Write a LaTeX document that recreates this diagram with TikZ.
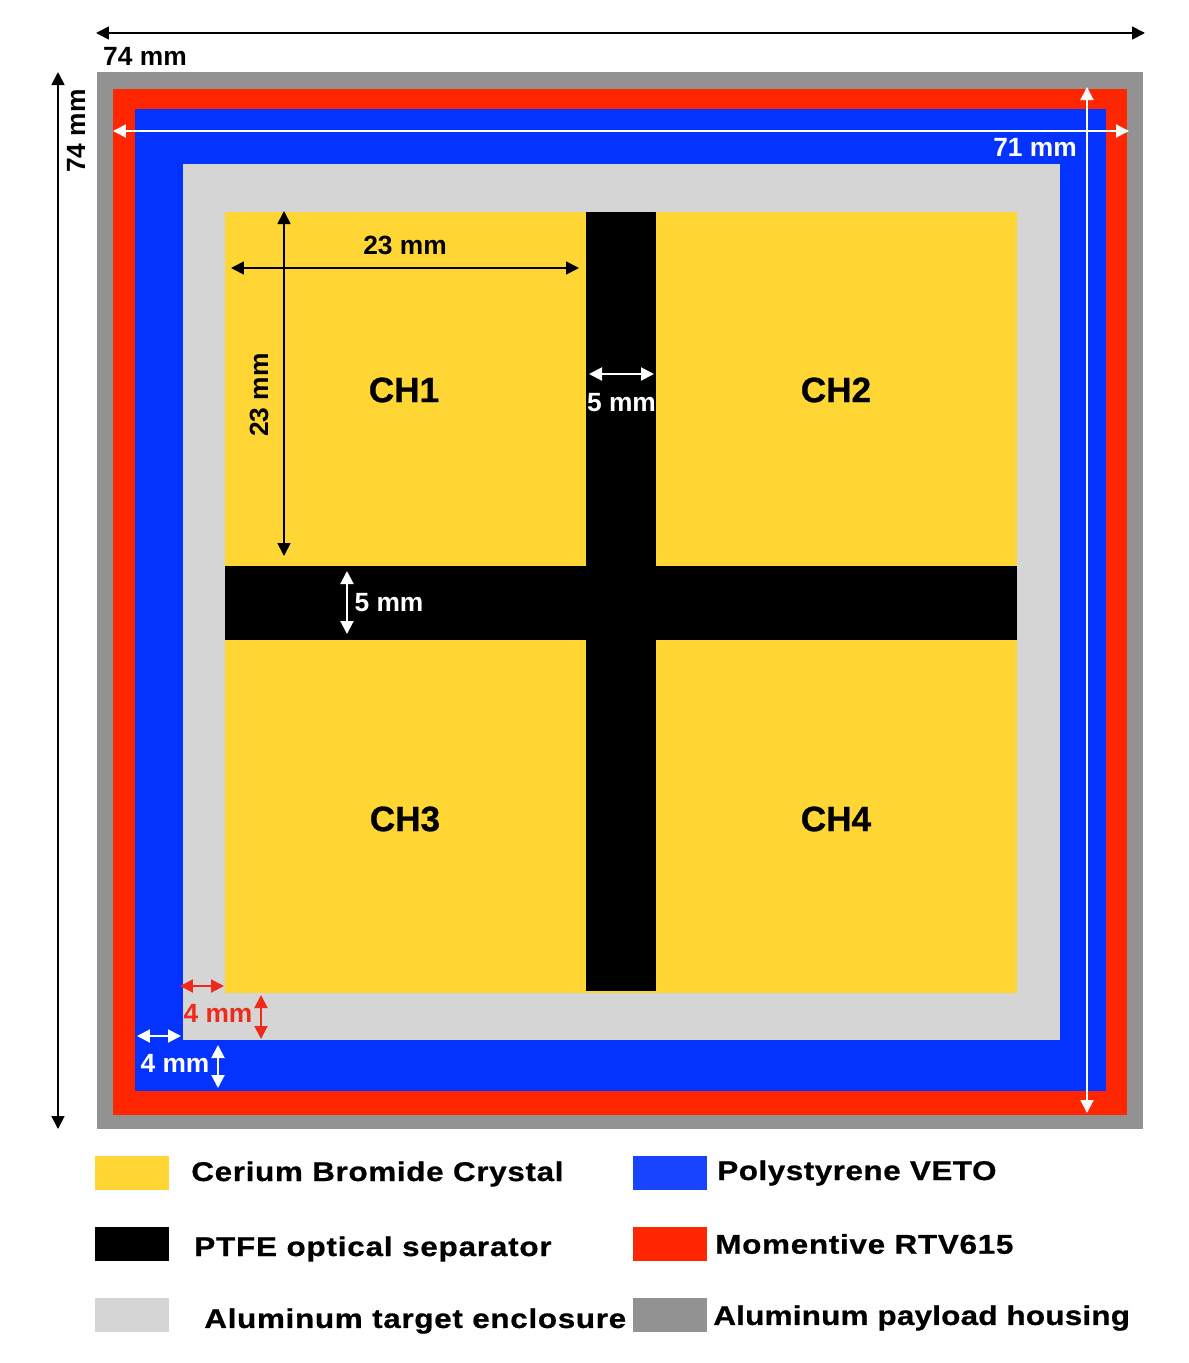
\documentclass[tikz,border=0pt]{standalone}
\usepackage{fontspec}
\setmainfont{Liberation Sans}
\newfontfamily\legendfont[FakeStretch=1.16]{Liberation Sans}
\usetikzlibrary{arrows.meta,positioning}
\definecolor{crystalyellow}{HTML}{FFD633}
\definecolor{vetoblue}{HTML}{0433FF}
\definecolor{rtvred}{HTML}{FF2600}
\definecolor{housinggray}{HTML}{929292}
\definecolor{enclosuregray}{HTML}{D5D5D5}
\definecolor{dimred}{HTML}{EE2A1B}
\tikzset{
  dimblack/.style={{Triangle[length=2.6mm,width=2.6mm]}-{Triangle[length=2.6mm,width=2.6mm]},line width=0.035cm,black},
  dimwhite/.style={dimblack,line width=0.04cm,white},
  dimredline/.style={dimblack,line width=0.04cm,dimred},
  dimlabel/.style={inner sep=0pt,font=\fontsize{15}{16}\selectfont\bfseries},
  chlabel/.style={inner sep=0pt,font=\fontsize{20}{22}\selectfont\bfseries\addfontfeature{FakeBold=0.8}},
  legendtext/.style={inner sep=0pt,anchor=west,font=\legendfont\fontsize{15.4}{18}\selectfont\bfseries\addfontfeature{LetterSpace=#1,FakeBold=0.8}},
}
\begin{document}
\begin{tikzpicture}[x=0.02cm,y=-0.02cm]
\useasboundingbox (0,0) rectangle (1188,1363);
% layers, outside to inside
\fill[housinggray] (97,72) rectangle (1143,1129);
\fill[rtvred] (113,89) rectangle (1127,1115);
\fill[vetoblue] (135,109) rectangle (1106,1091);
\fill[enclosuregray] (183,164) rectangle (1060,1040);
\fill[crystalyellow] (225,212) rectangle (1017,993);
\fill[black] (586,212) rectangle (656,991);
\fill[black] (225,566) rectangle (1017,640);
%
\node (ch1) [chlabel] at (404,390) {CH1};
\node (ch2) [chlabel] at (836,390) {CH2};
\node (ch3) [chlabel] at (405,819) {CH3};
\node (ch4) [chlabel] at (836,819) {CH4};
%
\coordinate (topL) at (96,33);
\coordinate (topR) at (1145,33);
\coordinate (sideT) at (58,72);
\coordinate (sideB) at (58,1129);
\coordinate (rtvL) at (113,131);
\coordinate (rtvR) at (1129,131);
\coordinate (rtvT) at (1087,87);
\coordinate (rtvB) at (1087,1113);
\coordinate (crysL) at (231,268);
\coordinate (crysR) at (579,268);
\coordinate (crysT) at (284,211);
\coordinate (crysB) at (284,556);
\coordinate (sepL) at (589,374);
\coordinate (sepR) at (654,374);
\coordinate (sepT) at (347,571);
\coordinate (sepB) at (347,634);
\coordinate (encL) at (180,986);
\coordinate (encR) at (224,986);
\coordinate (encT) at (261,995);
\coordinate (encB) at (261,1039);
\coordinate (vetoL) at (137,1036);
\coordinate (vetoR) at (181,1036);
\coordinate (vetoT) at (218,1045);
\coordinate (vetoB) at (218,1088);
%
\path[dimblack](topL) edge (topR);
\path[dimblack](sideT) edge (sideB);
\path[dimwhite](rtvL) edge (rtvR);
\path[dimwhite](rtvT) edge (rtvB);
\path[dimblack](crysL) edge (crysR);
\path[dimblack](crysT) edge (crysB);
\path[dimwhite](sepL) edge (sepR);
\path[dimwhite](sepT) edge (sepB);
\path[dimredline](encL) edge (encR);
\path[dimredline](encT) edge (encB);
\path[dimwhite](vetoL) edge (vetoR);
\path[dimwhite](vetoT) edge (vetoB);
%
\node (toplabel) [dimlabel] at (145,56) {74 mm};
\node (sidelabel) [dimlabel,rotate=90] at (76,131) {74 mm};
\node (rtvlabel) [dimlabel,white] at (1035,147) {71 mm};
\node (crysxlabel) [dimlabel] at (405,245) {23 mm};
\node (crysylabel) [dimlabel,rotate=90] at (259,395) {23 mm};
\node (sepxlabel) [dimlabel,white] at (621.5,403) {5 mm};
\node (sepylabel) [dimlabel,white] at (389,603) {5 mm};
\node (enclabel) [dimlabel,dimred] at (218,1013) {4 mm};
\node (vetolabel) [dimlabel,white] at (175,1063) {4 mm};
% legend
\fill[crystalyellow] (95,1156) rectangle (169,1190);
\fill[black] (95,1227) rectangle (169,1261);
\fill[enclosuregray] (95,1298) rectangle (169,1332);
\fill[vetoblue!92!white] (633,1156) rectangle (707,1190);
\fill[rtvred] (633,1227) rectangle (707,1261);
\fill[housinggray] (633,1298) rectangle (707,1332);
%
\node (leg1) [legendtext=2.5] at (191,1174) {Cerium Bromide Crystal};
\node (leg2) [legendtext=3] at (194,1249) {PTFE optical separator};
\node (leg3) [legendtext=2.6] at (204,1321) {Aluminum target enclosure};
\node (leg4) [legendtext=2] at (717,1173) {Polystyrene VETO};
\node (leg5) [legendtext=2.7] at (715,1244) {Momentive RTV615};
\node (leg6) [legendtext=0.9] at (713,1318) {Aluminum payload housing};
\end{tikzpicture}
\end{document}
